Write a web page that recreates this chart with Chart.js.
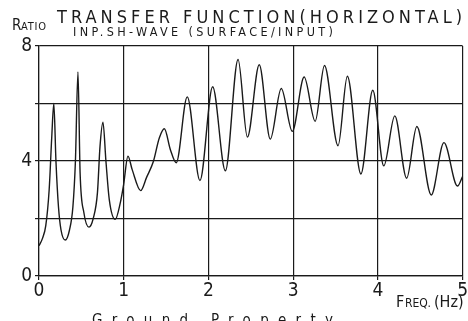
<!DOCTYPE html>
<html>
<head>
<meta charset="utf-8">
<script src="https://cdn.jsdelivr.net/npm/chart.js@4.4.1/dist/chart.umd.min.js"></script>
<style>
  html, body { margin: 0; padding: 0; background: #fff; }
  #wrap { position: relative; width: 468px; height: 321px; }
</style>
</head>
<body>
<div id="wrap"><canvas id="tfChart" width="468" height="321"></canvas></div>
<script>
// transfer function (Hz / ratio)
const freq = [
  0.00, 0.04, 0.08, 0.12, 0.15, 0.175, 0.20, 0.23, 0.26, 0.31,
  0.36, 0.40, 0.43, 0.46, 0.485, 0.53, 0.59, 0.64, 0.69, 0.72,
  0.755, 0.79, 0.83, 0.90, 0.96, 1.00, 1.05, 1.10, 1.20, 1.27,
  1.35, 1.42, 1.48, 1.55, 1.62, 1.75, 1.90, 2.05, 2.20, 2.35,
  2.46, 2.60, 2.73, 2.86, 2.99, 3.13, 3.26, 3.37, 3.53, 3.64,
  3.80, 3.94, 4.07, 4.20, 4.34, 4.46, 4.63, 4.78, 4.94, 5.00
];
const ratio = [
  1.05, 1.30, 1.75, 3.00, 4.80, 6.00, 4.00, 2.40, 1.60, 1.25,
  1.60, 2.40, 4.00, 7.10, 3.60, 2.20, 1.70, 2.00, 2.90, 4.50,
  5.35, 4.00, 2.65, 1.97, 2.55, 3.20, 4.17, 3.70, 2.97, 3.43,
  3.98, 4.80, 5.12, 4.40, 3.94, 6.23, 3.32, 6.58, 3.66, 7.53,
  4.83, 7.35, 4.76, 6.52, 5.03, 6.92, 5.38, 7.32, 4.53, 6.95,
  3.55, 6.46, 3.83, 5.57, 3.40, 5.20, 2.82, 4.64, 3.13, 3.46
];

const yLabelled = [0, 4, 8];

const INK = '#1a1a1a';
const FONT = '"Liberation Sans Narrow", "DejaVu Sans Condensed", sans-serif';

// ── text drawn around the frame ───────────────────────────────────────────
function spaced(ctx, text, x, y, size, width) {
  ctx.font = `${size}px ${FONT}`;
  ctx.letterSpacing = '0px';
  const w = ctx.measureText(text).width;
  const gap = width ? (width - w) / (text.length - 1) : 0;
  ctx.letterSpacing = gap + 'px';
  ctx.fillText(text, x, y);
  ctx.letterSpacing = '0px';
}

const labelsPlugin = {
  id: 'plotLabels',
  afterDraw(chart) {
    const ctx = chart.ctx;
    ctx.save();
    ctx.fillStyle = INK;
    ctx.textBaseline = 'alphabetic';
    ctx.textAlign = 'left';

    // "RATIO" small caps
    ctx.font = `15px ${FONT}`;
    ctx.fillText('R', 12, 30);
    spaced(ctx, 'ATIO', 21, 30, 11, 25);

    spaced(ctx, 'TRANSFER FUNCTION(HORIZONTAL)', 57, 23, 18, 405);
    spaced(ctx, 'INP.SH-WAVE (SURFACE/INPUT)', 73, 36, 12.5, 260);

    // "FREQ.(Hz)"
    ctx.font = `16px ${FONT}`;
    ctx.fillText('F', 396, 307);
    spaced(ctx, 'REQ.', 405, 307, 12, 26);
    ctx.font = `16px ${FONT}`;
    ctx.fillText('(Hz)', 434, 307);

    // caption cut off by the bottom edge
    spaced(ctx, 'Ground Property', 92, 325, 15, 241);
    ctx.restore();
  }
};

new Chart(document.getElementById('tfChart'), {
  type: 'line',
  data: {
    datasets: [{
      data: freq.map((f, i) => ({ x: f, y: ratio[i] })),
      borderColor: INK,
      borderWidth: 1.4,
      pointRadius: 0,
      fill: false,
      cubicInterpolationMode: 'monotone'
    }]
  },
  options: {
    responsive: false,
    animation: false,
    devicePixelRatio: 1,
    layout: { padding: { top: 46, right: 5, bottom: 0, left: 0 } },
    plugins: { legend: { display: false }, tooltip: { enabled: false } },
    scales: {
      x: {
        type: 'linear',
        min: 0, max: 5,
        afterFit: s => { s.height = 45; },
        grid: { color: INK, lineWidth: 1.2, tickLength: 4 },
        border: { color: INK, width: 1.2 },
        ticks: { stepSize: 1, color: INK, padding: 0, maxRotation: 0, font: { family: FONT, size: 19 } }
      },
      y: {
        min: 0, max: 8,
        afterFit: s => { s.width = 39; },
        grid: { color: INK, lineWidth: 1.2, tickLength: 4 },
        border: { color: INK, width: 1.2 },
        ticks: {
          stepSize: 2, color: INK, padding: 3,
          font: { family: FONT, size: 19 },
          callback: v => yLabelled.includes(v) ? String(v) : ''
        }
      }
    }
  },
  plugins: [labelsPlugin]
});
</script>
</body>
</html>
